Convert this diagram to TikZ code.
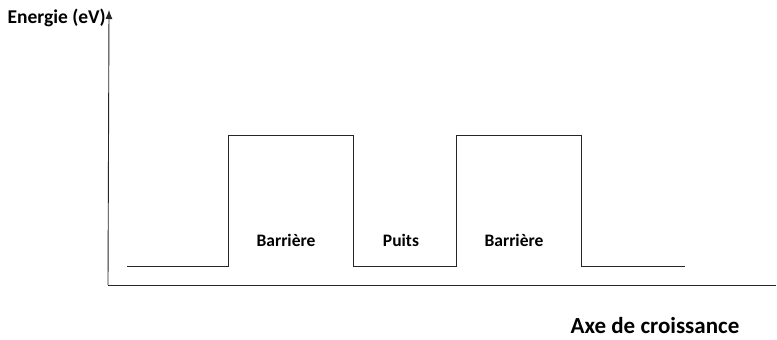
\documentclass[tikz,border=0pt]{standalone}
\usepackage{fontspec}
\setmainfont{Carlito}
\usetikzlibrary{arrows.meta}

\begin{document}
\begin{tikzpicture}[x=1pt,y=-1pt]
\useasboundingbox (0,0) rectangle (777,340);
\coordinate (O) at (108,285);
\coordinate (Ytop) at (109,10);
\coordinate (Xend) at (776,285);
\draw[black!85,line width=0.9pt,-{Latex[length=9pt,width=7pt]}] (O) -- (Ytop);
\draw[black!85,line width=0.9pt] (O) -- (Xend);
\draw[black!85,line width=0.9pt] (127,266) -- (228,266) -- (228,135) -- (353,135) -- (353,266)
  -- (456,266) -- (456,135) -- (581,135) -- (581,266) -- (685,266);
\node[font=\bfseries\fontsize{19.5}{22}\selectfont,anchor=east,inner sep=0pt] (ylab) at (106,18) {Energie (eV)};
\node[font=\bfseries\fontsize{17.5}{20}\selectfont] (bar1) at (286,240) {Barrière};
\node[font=\bfseries\fontsize{17.5}{20}\selectfont] (puits) at (401,240) {Puits};
\node[font=\bfseries\fontsize{17.5}{20}\selectfont] (bar2) at (514,240) {Barrière};
\node[font=\bfseries\fontsize{23}{26}\selectfont,inner sep=1pt] (xlab) at (655,326) {Axe de croissance};
\end{tikzpicture}
\end{document}
